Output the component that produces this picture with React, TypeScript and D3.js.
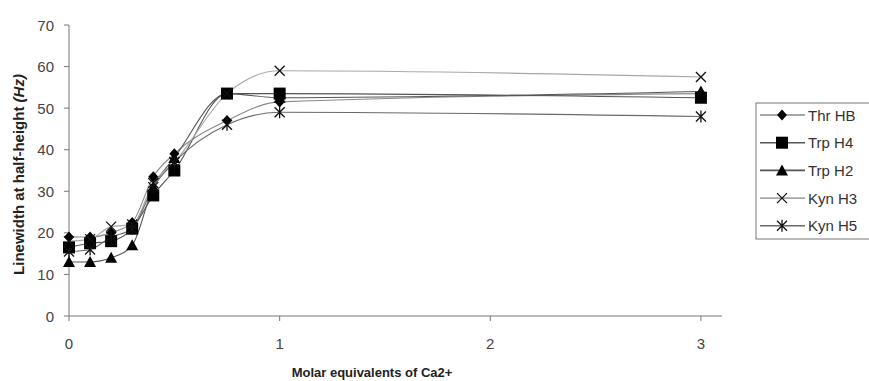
import React from 'react';
import * as d3 from 'd3';

// molar equivalents of Ca2+
const xValues = [0, 0.1, 0.2, 0.3, 0.4, 0.5, 0.75, 1, 3];

const thrHB = [19, 19, 20, 22.5, 33.5, 39, 47, 51.5, 53.5];
const trpH4 = [16.5, 17.5, 18, 21, 29, 35, 53.5, 53.5, 52.5];
const trpH2 = [13, 13, 14, 17, 31, 38, 53.5, 52.5, 54];
const kynH3 = [18, 18.5, 21.5, 22, 32, 37, 53.5, 59, 57.5];
const kynH5 = [15.5, 16, 19, 21, 31, 37, 46, 49, 48];

const seriesNames = ['Thr HB', 'Trp H4', 'Trp H2', 'Kyn H3', 'Kyn H5'];
const seriesValues = [thrHB, trpH4, trpH2, kynH3, kynH5];
const seriesShapes = ['diamond', 'square', 'triangle', 'x', 'star'];
const lineColors = ['#8a8a8a', '#555', '#555', '#a8a8a8', '#6a6a6a'];

const yTicks = [0, 10, 20, 30, 40, 50, 60, 70];
const xTicks = [0, 1, 2, 3];

const width = 869;
const height = 381;
const left = 69;
const right = 722;
const top = 25;
const bottom = 316;

const font = 'Arial, "Liberation Sans", sans-serif';

function Marker({ shape, x, y }: { shape: string; x: number; y: number }) {
  if (shape === 'diamond') {
    return <path d={`M${x},${y - 5.5}L${x + 5},${y}L${x},${y + 5.5}L${x - 5},${y}Z`} fill="#000" />;
  }
  if (shape === 'square') {
    return <rect x={x - 6} y={y - 6} width={12} height={12} fill="#000" />;
  }
  if (shape === 'triangle') {
    return <path d={`M${x},${y - 6}L${x + 6},${y + 5}L${x - 6},${y + 5}Z`} fill="#000" />;
  }
  if (shape === 'x') {
    return (
      <path d={`M${x - 5},${y - 5}L${x + 5},${y + 5}M${x - 5},${y + 5}L${x + 5},${y - 5}`} stroke="#111" strokeWidth={1.3} />
    );
  }
  return (
    <path
      d={`M${x - 5},${y - 5}L${x + 5},${y + 5}M${x - 5},${y + 5}L${x + 5},${y - 5}M${x},${y - 6}L${x},${y + 6}`}
      stroke="#111"
      strokeWidth={1.3}
    />
  );
}

export default function App() {
  const x = d3.scaleLinear().domain([0, 3.1]).range([left, right]);
  const y = d3.scaleLinear().domain([0, 70]).range([bottom, top]);

  const line = d3
    .line<number>()
    .x((d, i) => x(xValues[i]))
    .y((d) => y(d))
    .curve(d3.curveMonotoneX);

  const legendX = 756;
  const legendY = 103;
  const rowH = 27.7;

  return (
    <svg width={width} height={height} style={{ position: 'absolute', left: 0, top: 0 }}>
      <rect width={width} height={height} fill="#fff" />

      {/* axes */}
      <line x1={left} x2={left} y1={top} y2={bottom} stroke="#777" />
      <line x1={left} x2={right} y1={bottom} y2={bottom} stroke="#777" />
      {yTicks.map((t) => (
        <g key={'y' + t}>
          <line x1={left - 5} x2={left} y1={y(t)} y2={y(t)} stroke="#777" />
          <text x={left - 15} y={y(t) + 5.5} textAnchor="end" fontSize={15} fill="#444" fontFamily={font}>
            {t}
          </text>
        </g>
      ))}
      {xTicks.map((t) => (
        <g key={'x' + t}>
          <line x1={x(t)} x2={x(t)} y1={bottom} y2={bottom + 5} stroke="#777" />
          <text x={x(t)} y={bottom + 33} textAnchor="middle" fontSize={15} fill="#444" fontFamily={font}>
            {t}
          </text>
        </g>
      ))}

      <text x={372} y={377} textAnchor="middle" fontSize={13} fontWeight="bold" fill="#222" fontFamily={font}>
        Molar equivalents of Ca2+
      </text>
      <text
        transform={`translate(24,${(top + bottom) / 2 + 4}) rotate(-90)`}
        textAnchor="middle"
        fontSize={15}
        fontWeight="bold"
        fill="#222"
        fontFamily={font}
      >
        Linewidth at half-height <tspan fontStyle="italic">(Hz)</tspan>
      </text>

      {/* series lines */}
      {seriesValues.map((vals, s) => (
        <path key={'l' + s} d={line(vals) || ''} fill="none" stroke={lineColors[s]} strokeWidth={1.1} />
      ))}
      {/* markers */}
      {seriesValues.map((vals, s) => (
        <g key={'m' + s}>
          {vals.map((v, i) => (
            <Marker key={i} shape={seriesShapes[s]} x={x(xValues[i])} y={y(v)} />
          ))}
        </g>
      ))}

      {/* legend */}
      <rect x={legendX} y={legendY} width={130} height={136} fill="#fff" stroke="#777" />
      {seriesNames.map((name, s) => {
        const cy = legendY + 12 + s * rowH;
        return (
          <g key={'lg' + s}>
            <line x1={legendX + 4} x2={legendX + 49} y1={cy} y2={cy} stroke={lineColors[s]} strokeWidth={1.6} />
            <Marker shape={seriesShapes[s]} x={legendX + 26} y={cy} />
            <text x={legendX + 52} y={cy + 5.5} fontSize={15} fill="#333" fontFamily={font}>
              {name}
            </text>
          </g>
        );
      })}
    </svg>
  );
}
